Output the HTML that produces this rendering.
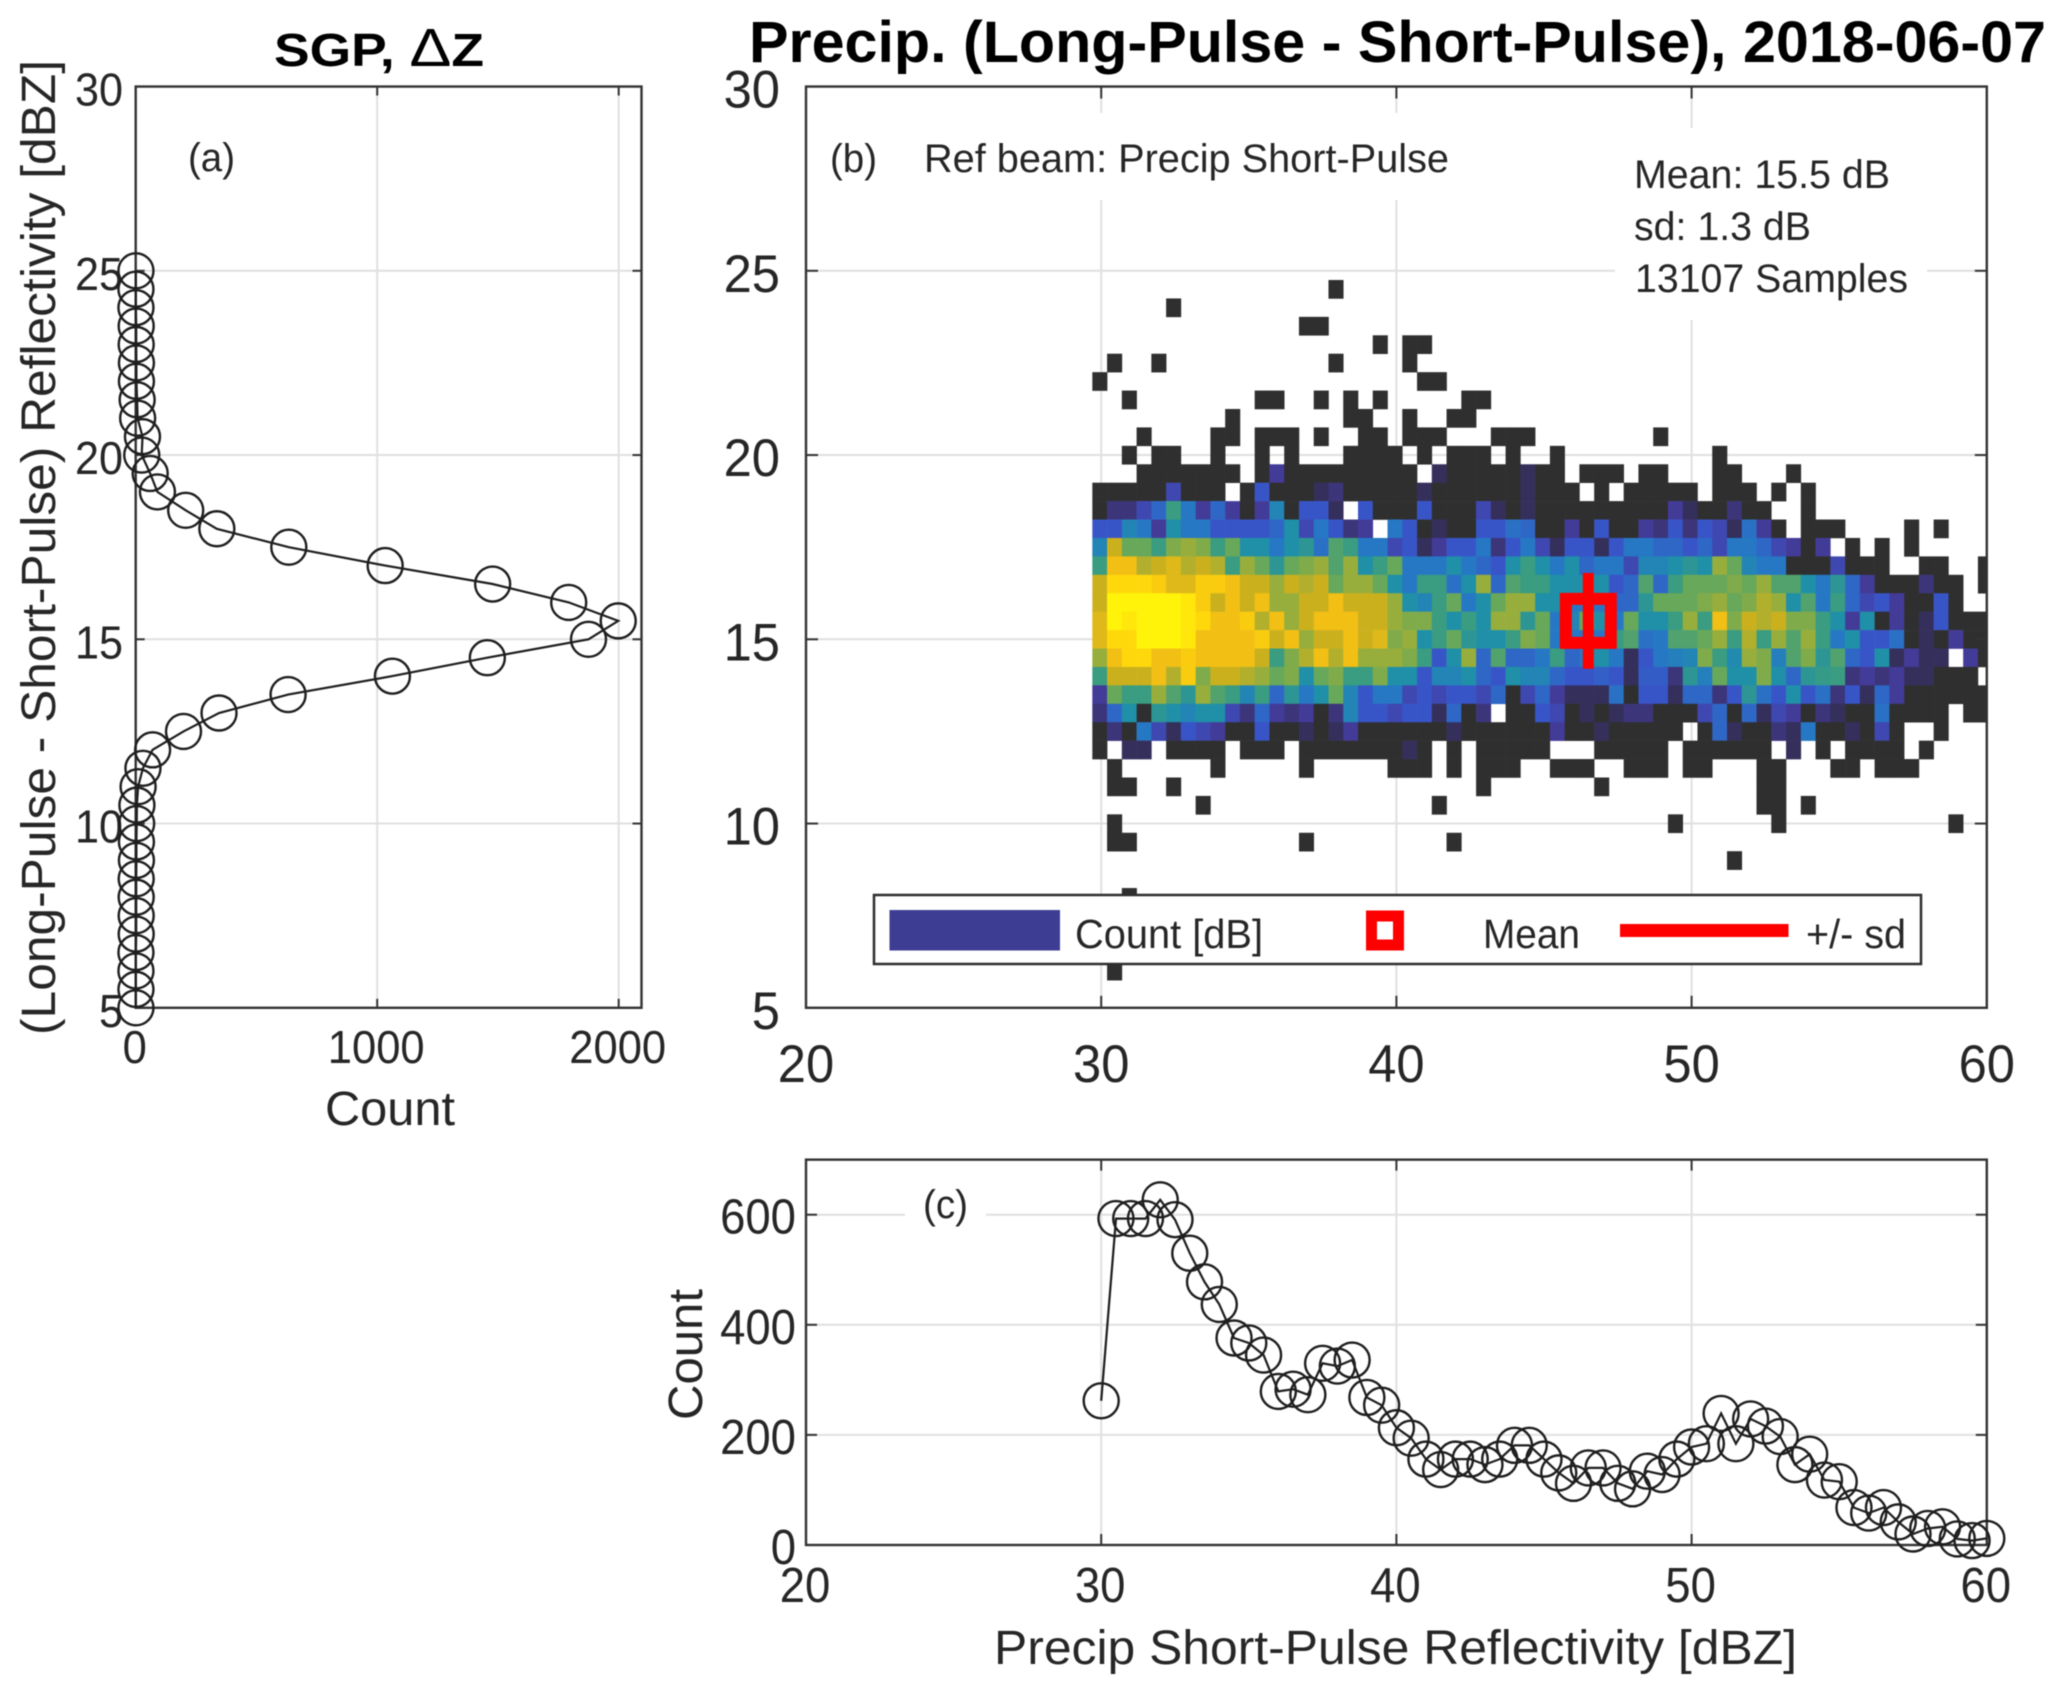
<!DOCTYPE html>
<html lang="en">
<head>
<meta charset="utf-8">
<title>SGP Precip Long-Pulse minus Short-Pulse, 2018-06-07</title>
<style>
html,body{margin:0;padding:0;background:#fff;}
svg{display:block;filter:blur(0.55px);}
text{font-family:"Liberation Sans",Arial,sans-serif;fill:#262626;}
.title{font-weight:bold;fill:#000;}
</style>
</head>
<body>
<svg id="figure" width="2067" height="1695" viewBox="0 0 2067 1695">
  <defs>
    <clipPath id="heat-clip"><rect x="806" y="86.5" width="1181" height="921.3"></rect></clipPath>
  </defs>
  <rect x="0" y="0" width="2067" height="1695" fill="#ffffff"></rect>

  <g id="panel-a"></g>
  <g id="panel-b"></g>
  <g id="panel-c"></g>

  <text class="title" x="274" y="66" font-size="46" textLength="210" lengthAdjust="spacingAndGlyphs">SGP, <tspan font-weight="normal" font-size="54">Δ</tspan>Z</text>
  <text class="title" x="749" y="62" font-size="58" textLength="1297" lengthAdjust="spacingAndGlyphs">Precip. (Long-Pulse - Short-Pulse), 2018-06-07</text>

  <text transform="translate(55,1035) rotate(-90)" font-size="48" textLength="975" lengthAdjust="spacingAndGlyphs">(Long-Pulse - Short-Pulse) Reflectivity [dBZ]</text>
  <text x="325" y="1125" font-size="48" textLength="130" lengthAdjust="spacingAndGlyphs">Count</text>
  <text x="994" y="1664" font-size="48" textLength="803" lengthAdjust="spacingAndGlyphs">Precip Short-Pulse Reflectivity [dBZ]</text>
  <text transform="translate(702,1420) rotate(-90)" font-size="48" textLength="131" lengthAdjust="spacingAndGlyphs">Count</text>

  <text x="188" y="171" font-size="40" textLength="47" lengthAdjust="spacingAndGlyphs">(a)</text>
  <text x="830" y="172" font-size="40" textLength="47" lengthAdjust="spacingAndGlyphs">(b)</text>
  <text x="924" y="172" font-size="40" textLength="525" lengthAdjust="spacingAndGlyphs">Ref beam: Precip Short-Pulse</text>
  <text x="1634" y="188" font-size="40" textLength="256" lengthAdjust="spacingAndGlyphs">Mean: 15.5 dB</text>
  <text x="1634" y="240" font-size="40" textLength="177" lengthAdjust="spacingAndGlyphs">sd: 1.3 dB</text>
  <text x="1635" y="292" font-size="40" textLength="273" lengthAdjust="spacingAndGlyphs">13107 Samples</text>
  <text x="923" y="1218" font-size="40" textLength="45" lengthAdjust="spacingAndGlyphs">(c)</text>

  <g>
    <rect x="874" y="895" width="1047" height="69" fill="#ffffff" stroke="#2e2e2e" stroke-width="2.5"></rect>
    <rect x="889.5" y="910" width="170.5" height="40.5" fill="#3e3d94"></rect>
    <text x="1075" y="948" font-size="41" textLength="188" lengthAdjust="spacingAndGlyphs">Count [dB]</text>
    <rect x="1371.5" y="916" width="27" height="29" fill="#ffffff" stroke="#ff0000" stroke-width="11"></rect>
    <text x="1483" y="948" font-size="41" textLength="97" lengthAdjust="spacingAndGlyphs">Mean</text>
    <line x1="1620" y1="930.5" x2="1788.5" y2="930.5" stroke="#ff0000" stroke-width="13"></line>
    <text x="1806" y="948" font-size="41" textLength="100" lengthAdjust="spacingAndGlyphs">+/- sd</text>
  </g>
</svg>

<script>
// ---------- data ----------
const n = null;
const diffBins = [5,5.5,6,6.5,7,7.5,8,8.5,9,9.5,10,10.5,11,11.5,12,12.5,13,13.5,14,14.5,15,15.5,16,16.5,17,17.5,18,18.5,19,19.5,20,20.5,21,21.5,22,22.5,23,23.5,24,24.5,25];
const diffCounts = [1,1,1,1,2,2,2,2,3,3,4,5,10,30,70,198,345,631,1063,1456,1875,1998,1793,1478,1033,634,336,207,90,60,25,28,8,6,3,3,2,2,1,1,1];

const reflBins = [30,30.5,31,31.5,32,32.5,33,33.5,34,34.5,35,35.5,36,36.5,37,37.5,38,38.5,39,39.5,40,40.5,41,41.5,42,42.5,43,43.5,44,44.5,45,45.5,46,46.5,47,47.5,48,48.5,49,49.5,50,50.5,51,51.5,52,52.5,53,53.5,54,54.5,55,55.5,56,56.5,57,57.5,58,58.5,59,59.5,60];
const reflCounts = [262,593,593,593,627,591,530,478,437,376,367,345,279,283,273,330,325,336,268,254,213,194,156,137,156,156,146,156,181,181,156,131,112,140,140,112,102,134,128,156,178,184,239,184,229,216,197,146,165,118,115,68,58,68,42,20,30,33,11,8,12];

const heatDiffBins = [24.5,24,23.5,23,22.5,22,21.5,21,20.5,20,19.5,19,18.5,18,17.5,17,16.5,16,15.5,15,14.5,14,13.5,13,12.5,12,11.5,11,10.5,10,9.5,9,8.5,8,7.5,7,6.5,6];
const heatRows = [
[n,n,n,n,n,n,n,n,n,n,n,n,n,n,n,n,0],
[n,n,n,n,n,0],
[n,n,n,n,n,n,n,n,n,n,n,n,n,n,0,0],
[n,n,n,n,n,n,n,n,n,n,n,n,n,n,n,n,n,n,n,0,n,0,0],
[n,0,n,n,0,n,n,n,n,n,n,n,n,n,n,n,0,n,n,n,n,0],
[0,n,n,n,n,n,n,n,n,n,n,n,n,n,n,n,n,n,n,n,n,n,0,0],
[n,n,0,n,n,n,n,n,n,n,n,0,0,n,n,0,n,0,n,0,n,n,n,n,n,0,0],
[n,n,n,n,n,n,n,n,n,0,n,n,n,n,n,n,n,0,0,n,n,0,n,n,0,0],
[n,n,n,0,n,n,n,n,0,0,n,0,0,0,n,0,n,n,0,0,n,0,0,0,n,n,n,0,0,0,n,n,n,n,n,n,n,n,0],
[n,n,0,n,0,0,n,n,0,n,n,0,n,0,n,n,n,0,0,0,0,n,0,n,0,0,0,n,0,n,n,0,n,n,n,n,n,n,n,n,n,n,0],
[n,n,n,0,0,0,0,0,0,0,n,0,2,0,0,0,0,0,0,0,0,0,n,1,0,0,0,0,0,1,0,0,n,0,0,0,n,0,0,n,n,n,0,0,n,n,n,0],
[0,0,0,0,0,2.5,0,0,0,n,0,3,0,0,0,1,1.5,0,0,0,0,0,1,0,0,0,0,0,0,1,0,0,0,n,0,n,0,0,0,0,0,n,0,0,0,n,0,n,0],
[0,1.5,1.5,2.5,3.5,6,4,2,3.5,2,0,2,4.5,0,3,3,1,n,3,0,0,0,3,0,0,0,2.5,1,0,1,0,0,0,0,0,0,0,0,0,2,1,0,0,1.5,0,0,n,n,0],
[3,3,4.5,4,2,5,4,4,3,3,3,3,3.5,5,2.5,4,3,1.5,2,n,4,3,0,1,0,0,3,3,3.8,3.5,0,0,2,0,3,0,0,2,1.5,3,1.5,3,2.5,1,3.8,2,0,n,0,0,0,n,n,n,n,0,n,0],
[4.5,9,7,7,6,7.5,8,7.5,6,7,5,5,4,5,5.5,3.8,6.5,6,4,4,2.5,3,1,2,3,3,4,1.5,3,4,2.5,1,3,3,1,3,4,4,3.5,3.5,3,3.5,2.5,4,4,3.5,2.5,2,0,2,n,0,n,0,n,0],
[6,10,10,8.5,9,9.5,8.5,9,8.5,6,8,7,5.5,7,7.5,8,6.5,8,5,6,7,4,4,4,5,4,3.5,3,5,6,5,4,5,3.5,4,4,2.5,4.5,4.5,5,5.5,5,8,7,4.5,4,4,0,0,0,2.5,0,0,0,n,n,0,0,n,n,0],
[9,11,11,11,10.5,9.5,9.5,10.5,10.5,10,9,9,8,9,8.5,9,7,8,8,7,5,4,6,6,3.8,5,8,3.5,6.5,6,6,5,5,5,5,3,3.5,6.5,3.5,6,7,7,7,7.5,7,8,6.5,6.5,5,4,5.5,3.5,2,0,0,0,1.5,0,0,n,0],
[9,12,12,12,12,12,11.5,10.5,9,10,9,10,8,8,9,9,10,9,9,9,8,5,4.5,6,7,4,5,7,8,8,5,5,4,4,4,3.5,3.5,5.5,7,7,7,7.5,8,7,7.5,8.5,8,5,6.5,4,6,3.5,2.5,3,2,0,0,3,0,n,n],
[9.5,12,11.5,12,12,12,11.5,11,10,10,10.5,8.5,10,8,9,10,10,10,9,9,8,7.5,7.5,6,5,6,5,8,8,5.5,7,4,4.5,7,5,4,7,5,5,6,8,6,10,7.5,9,8.5,9,7.5,7.5,6,5,2,5,0,2,0,1,3,0,0,0],
[9.5,11,11,12,12,12,11.5,10,10,10,10,10.5,9,10,8,9,9,10,9,9.5,7.5,8,5,6,7,5.5,5,5,6,7.5,7,4,4,4,4,6,6.5,3.8,4,6.5,6.5,7,8,6,8.5,6,8,6.5,8,6,4,5,3,3,3.8,0,1,0,2,0,0],
[8,10,11,11,10,10,10.5,10,10,10,10,9,6,7.5,8.5,10,8.5,10,8,8,8,7.5,6,3,5,8,3.5,6.5,3.5,3.5,4,6,3.5,4,5,4,1,3,4,4.3,4.5,7.5,6,4.8,8,7.5,4.3,6.5,7.5,5.5,6.5,3.5,3,5,1,2,1,1,n,2,0],
[6,9,9,9,10,8.5,10.5,7.5,9,9,8.5,8,7,7.5,5,7,7.5,6,6,7.5,5,5,3,4.5,4.5,5,3.5,3,5,4.5,4.5,3.5,3,3,3.3,3,1,3.2,3.2,1.5,5.5,4.3,7,5,5,7.5,5,3.5,5.5,5.8,6,1.5,2,1.5,2,1,1,0,0,0,n],
[2,7,6,6,8,6.5,5.5,8,6.5,6,4.5,6,3.5,5.5,4,5,7,4.5,3,4,4,2.5,3,2.5,3,3,2.5,3.5,0,2.5,3.5,2,1,1,1,3.8,0,3,3,1,3.5,3.5,1.5,3,5.5,3.8,3,5,3,3.8,1.5,3,1,3.5,2,0,0,0,0,0,0],
[1.5,3.5,5,0,5.5,5,4.5,5,5,2.5,1.5,3.5,2,1.5,2,0,1.5,4.5,3,3,2.5,3,3,1,3.5,0,1.5,n,0,0,3,2.5,0,1,0,1,1.5,1.5,0,0,0,2.5,3.5,0,3.5,1,2.5,2,0,1.5,1,0,0,3.8,0,0,0,0,n,0,0],
[0,1.5,0,4,2.5,1,3,2.5,2,0,0,3,0,0,1,0,1,2,0,0,0,0,0,0,1,0,0,0,0,0,0,2,0,0,1,0,0,0,0,0,n,0,3.5,1,0,0,1.5,1,4,0,0,1,0,2.5,0,n,n,0,n,n,n],
[0,n,1,1,n,0,0,0,0,n,0,0,0,n,0,0,0,0,0,0,0,1,0,n,0,n,0,0,0,0,0,n,n,n,0,0,0,0,0,n,0,0,0,0,0,0,n,1,n,0,n,0,0,0,0,n,0],
[n,0,n,n,n,n,n,n,0,n,n,n,n,n,0,n,n,n,n,n,0,0,0,n,0,n,0,0,0,n,n,0,0,0,n,n,0,0,0,n,0,0,n,n,n,0,0,n,n,n,0,0,n,0,0,0],
[n,0,0,n,n,0,n,n,n,n,n,n,n,n,n,n,n,n,n,n,n,n,n,n,n,n,0,n,n,n,n,n,n,n,0,n,n,n,n,n,n,n,n,n,n,0,0],
[n,n,n,n,n,n,n,0,n,n,n,n,n,n,n,n,n,n,n,n,n,n,n,0,n,n,n,n,n,n,n,n,n,n,n,n,n,n,n,n,n,n,n,n,n,0,0,n,0],
[n,0,n,n,n,n,n,n,n,n,n,n,n,n,n,n,n,n,n,n,n,n,n,n,n,n,n,n,n,n,n,n,n,n,n,n,n,n,n,0,n,n,n,n,n,n,0,n,n,n,n,n,n,n,n,n,n,n,0],
[n,0,0,n,n,n,n,n,n,n,n,n,n,n,0,n,n,n,n,n,n,n,n,n,0],
[n,n,n,n,n,n,n,n,n,n,n,n,n,n,n,n,n,n,n,n,n,n,n,n,n,n,n,n,n,n,n,n,n,n,n,n,n,n,n,n,n,n,n,0],
[],
[n,n,0],
[],
[],
[],
[n,0]
];
const heatColorStops = ['#2f2f2f','#352f5c','#433b98','#3855c8','#2678c4','#1f90a8','#3a9c80','#68a85a','#98ae3c','#cbb01e','#f2bf14','#ffd80c','#fff30a'];

const meanReflectivity = [46.5];
const meanDifference = [15.5];
const sdDifference = [1.3];

const diffTicks = [5,10,15,20,25,30];
const diffTickLabels = ['5','10','15','20','25','30'];
const countATicks = [0,1000,2000];
const countATickLabels = ['0','1000','2000'];
const reflTicks = [20,30,40,50,60];
const reflTickLabels = ['20','30','40','50','60'];
const countCTicks = [0,200,400,600];
const countCTickLabels = ['0','200','400','600'];

// ---------- axis functions ----------
const diffAxis = v => 1007.8 - (v - 5) * 36.85;
const countAAxis = v => 135.7 + v * 0.2415;
const reflAxis = v => 806 + (v - 20) * 29.52;
const countCAxis = v => 1545 - v * 0.5505;

const BOX_A = {l:135.7, r:641.5, t:diffAxis(30), b:diffAxis(5)};
const BOX_B = {l:reflAxis(20), r:reflAxis(60), t:diffAxis(30), b:diffAxis(5)};
const BOX_C = {l:reflAxis(20), r:reflAxis(60), t:countCAxis(700), b:countCAxis(0)};

const SVG_NS = 'http://www.w3.org/2000/svg';
function mk(parent, tag, attrs, text) {
  const el = document.createElementNS(SVG_NS, tag);
  for (const k in attrs) el.setAttribute(k, attrs[k]);
  if (text !== undefined) el.textContent = text;
  parent.appendChild(el);
  return el;
}
function heatColor(v) {
  const lo = Math.min(Math.floor(v), heatColorStops.length - 1);
  const hi = Math.min(lo + 1, heatColorStops.length - 1);
  const f = v - lo;
  const a = heatColorStops[lo], b = heatColorStops[hi];
  const ch = i => Math.round(parseInt(a.substr(i, 2), 16) * (1 - f) + parseInt(b.substr(i, 2), 16) * f);
  return 'rgb(' + ch(1) + ',' + ch(3) + ',' + ch(5) + ')';
}

const GRID = '#e0e0e0';
const AXIS = '#333333';

function gridV(parent, xs, box) {
  xs.forEach(x => {
    const l = mk(parent, 'line', {x1:x, x2:x, y1:box.t, y2:box.b, stroke:GRID, 'stroke-width':2});
    
    
  });
}
function gridH(parent, ys, box) {
  ys.forEach(y => {
    const l = mk(parent, 'line', {x1:box.l, x2:box.r, y1:y, y2:y, stroke:GRID, 'stroke-width':2});
    
    
  });
}
function frame(parent, box, xs, ys, tlen) {
  xs.forEach(x => {
    [[box.b, box.b - tlen], [box.t, box.t + tlen]].forEach(p => {
      const t = mk(parent, 'line', {x1:x, x2:x, y1:p[0], y2:p[1], stroke:AXIS, 'stroke-width':2});
      
      
    });
  });
  ys.forEach(y => {
    [[box.l, box.l + tlen], [box.r, box.r - tlen]].forEach(p => {
      const t = mk(parent, 'line', {x1:p[0], x2:p[1], y1:y, y2:y, stroke:AXIS, 'stroke-width':2});
      
      
    });
  });
  const r = mk(parent, 'rect', {x:box.l, y:box.t, width:box.r - box.l, height:box.b - box.t, fill:'none', stroke:AXIS, 'stroke-width':2.4});
  
  
}
function tickLabelsX(parent, vals, labels, fx, y, size, perChar) {
  vals.forEach((v, i) => {
    const t = mk(parent, 'text', {x:fx(v), y:y, 'font-size':size, 'text-anchor':'middle', textLength:labels[i].length * perChar, lengthAdjust:'spacingAndGlyphs'}, labels[i]);
    
    
  });
}
function tickLabelsY(parent, vals, labels, fy, x, dy, size, perChar) {
  vals.forEach((v, i) => {
    const t = mk(parent, 'text', {x:x, y:fy(v) + dy, 'font-size':size, 'text-anchor':'end', textLength:labels[i].length * perChar, lengthAdjust:'spacingAndGlyphs'}, labels[i]);
    
    
  });
}
function series(parent, pts) {
  const line = mk(parent, 'polyline', {points:pts.map(p => p[0].toFixed(1) + ',' + p[1].toFixed(1)).join(' '), fill:'none', stroke:'#1e1e1e', 'stroke-width':2.2});
  
  
  pts.forEach(p => {
    const c = mk(parent, 'circle', {cx:p[0], cy:p[1], r:17.5, fill:'none', stroke:'#1e1e1e', 'stroke-width':2.4});
    
    
  });
}

// ---------- panel a ----------
const pa = document.getElementById('panel-a');
gridV(pa, countATicks.slice(1).map(countAAxis), BOX_A);
gridH(pa, diffTicks.slice(1, -1).map(diffAxis), BOX_A);
frame(pa, BOX_A, countATicks.slice(1).map(countAAxis), diffTicks.slice(1, -1).map(diffAxis), 9);
tickLabelsY(pa, diffTicks, diffTickLabels, diffAxis, 123, 19, 46, 24);
tickLabelsX(pa, countATicks, countATickLabels, v => countAAxis(v) - 1, 1063, 46, 24.2);
series(pa, diffBins.map((b, i) => [countAAxis(diffCounts[i]), diffAxis(b)]));

// ---------- panel b ----------
const pb = document.getElementById('panel-b');
gridV(pb, reflTicks.slice(1, -1).map(reflAxis), BOX_B);
gridH(pb, diffTicks.slice(1, -1).map(diffAxis), BOX_B);

const noteBg = mk(pb, 'rect', {x:905, y:113, width:565, height:87, fill:'#ffffff'});


const statBg = mk(pb, 'rect', {x:1615, y:128, width:312, height:192, fill:'#ffffff'});



const heatGroup = mk(pb, 'g', {'clip-path':'url(#heat-clip)'});


const cellW = reflAxis(30.5) - reflAxis(30);
const cellH = diffAxis(10) - diffAxis(10.5);
heatDiffBins.forEach((yv, r) => {
  const row = heatRows[r];
  row.forEach((v, c) => {
    if (v === null || v === undefined) return;
    const cell = mk(heatGroup, 'rect', {
      x:(reflAxis(reflBins[c]) - cellW / 2 - 1.5).toFixed(2),
      y:(diffAxis(yv) - cellH / 2).toFixed(2),
      width:(cellW + 0.3).toFixed(2),
      height:(cellH + 0.3).toFixed(2),
      fill:heatColor(v)
    });
    
    
  });
});

frame(pb, BOX_B, reflTicks.slice(1, -1).map(reflAxis), diffTicks.slice(1, -1).map(diffAxis), 12);
tickLabelsY(pb, diffTicks, diffTickLabels, diffAxis, 780, 21, 53, 28.2);
tickLabelsX(pb, reflTicks, reflTickLabels, reflAxis, 1082, 53, 28.2);

const mx = reflAxis(meanReflectivity[0]);
const my = diffAxis(meanDifference[0]);
const sdBar = mk(pb, 'line', {x1:mx, x2:mx, y1:diffAxis(meanDifference[0] + sdDifference[0]), y2:diffAxis(meanDifference[0] - sdDifference[0]), stroke:'#ff0000', 'stroke-width':11});


const meanBox = mk(pb, 'rect', {x:mx - 22.5, y:my - 22, width:45, height:44, fill:'none', stroke:'#ff0000', 'stroke-width':12});



// ---------- panel c ----------
const pc = document.getElementById('panel-c');
gridV(pc, reflTicks.slice(1, -1).map(reflAxis), BOX_C);
gridH(pc, countCTicks.slice(1).map(countCAxis), BOX_C);
const labelBg = mk(pc, 'rect', {x:905, y:1175, width:81, height:73, fill:'#ffffff'});


frame(pc, BOX_C, reflTicks.slice(1, -1).map(reflAxis), countCTicks.slice(1).map(countCAxis), 11);
tickLabelsY(pc, countCTicks, countCTickLabels, countCAxis, 796, 19, 49, 25.3);
tickLabelsX(pc, reflTicks, reflTickLabels, v => reflAxis(v) - 1, 1602, 49, 25.3);
series(pc, reflBins.map((b, i) => [reflAxis(b), countCAxis(reflCounts[i])]));
</script>
</body>
</html>
